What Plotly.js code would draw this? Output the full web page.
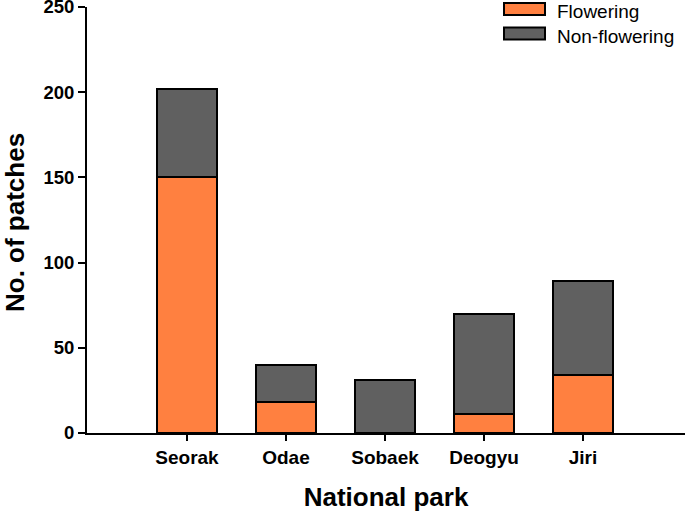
<!DOCTYPE html>
<html><head><meta charset="utf-8">
<script src="https://cdn.plot.ly/plotly-3.0.1.min.js"></script>
<style>body{margin:0;background:#fff}#c{width:685px;height:516px}</style>
</head><body><div id="c"></div>
<script>
const parks = ["Seorak", "Odae", "Sobaek", "Deogyu", "Jiri"];
const flowering = [150, 18, 0, 11, 34];
const nonFlowering = [52, 22, 31, 59, 55];
const yTicks = [0, 50, 100, 150, 200, 250];
const seriesNames = ["Flowering", "Non-flowering"];
const seriesColors = ["#FF8040", "#606060"];
const yTitle = "No. of patches";
const xTitle = "National park";

const F = "Liberation Sans, Arial, sans-serif";
const W = 685, H = 516, ML = 87, MR = 0, MT = 7, MB = 83;
const PW = W - ML - MR, PH = H - MT - MB;
const px = x => (x - ML) / PW;
const py = y => (H - MB - y) / PH;

const traces = [
  {type: "bar", name: seriesNames[0], x: parks, y: flowering,
   marker: {color: seriesColors[0], line: {color: "#000", width: 2}}},
  {type: "bar", name: seriesNames[1], x: parks, y: nonFlowering,
   marker: {color: seriesColors[1], line: {color: "#000", width: 2}}}
];

// custom legend (wide rectangular swatches as in reference)
const legendRows = [9, 33.5];
const shapes = [], annotations = [];
seriesNames.forEach((n, i) => {
  const cy = legendRows[i];
  shapes.push({type: "rect", xref: "paper", yref: "paper",
    x0: px(504), x1: px(545), y0: py(cy - 6), y1: py(cy + 6),
    fillcolor: seriesColors[i], line: {color: "#000", width: 2}});
  annotations.push({xref: "paper", yref: "paper", x: px(556), y: py(cy - 9),
    xanchor: "left", yanchor: "top", showarrow: false, text: n,
    font: {family: F, size: 19, color: "#000"}, borderpad: 0});
});
// y-axis title as rotated annotation
annotations.push({xref: "paper", yref: "paper", x: px(15), y: py(223),
  xanchor: "center", yanchor: "middle", textangle: -90, showarrow: false,
  text: yTitle, borderpad: 0,
  font: {family: F, size: 26, color: "#000", weight: "bold"}});

const layout = {
  width: W, height: H, barmode: "stack", bargap: 0.39,
  margin: {l: ML, r: MR, t: MT, b: MB},
  paper_bgcolor: "#fff", plot_bgcolor: "#fff",
  font: {family: F, color: "#000"},
  showlegend: false, shapes: shapes, annotations: annotations,
  xaxis: {range: [-1.01, 5.03], showline: true, linecolor: "#000", linewidth: 2,
          ticks: "outside", ticklen: 6, tickwidth: 2, tickcolor: "#000",
          tickfont: {family: F, size: 19, color: "#000", weight: "bold"},
          title: {text: xTitle, font: {family: F, size: 26, color: "#000", weight: "bold"}, standoff: 21},
          showgrid: false, zeroline: false, fixedrange: true},
  yaxis: {range: [0, 250], tickvals: yTicks, showline: true, linecolor: "#000", linewidth: 2,
          ticks: "outside", ticklen: 7, tickwidth: 2, tickcolor: "#000", ticklabeloverflow: "allow",
          tickfont: {family: F, size: 18.5, color: "#000", weight: "bold"},
          showgrid: false, zeroline: false, fixedrange: true}
};
Plotly.newPlot("c", traces, layout, {displayModeBar: false, staticPlot: true});
</script></body></html>
